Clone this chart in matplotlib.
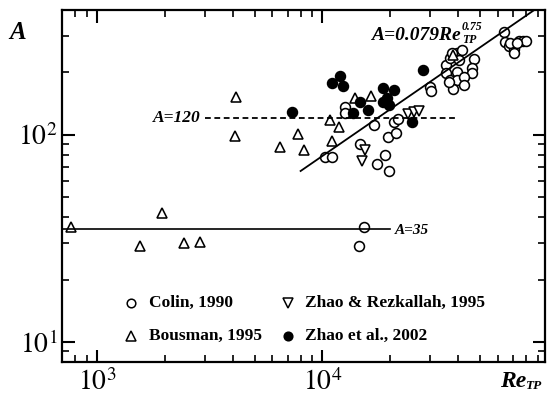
import numpy as np
import matplotlib
matplotlib.use('Agg')
import matplotlib.pyplot as plt
from matplotlib.ticker import LogLocator, NullFormatter, FixedLocator, FixedFormatter

plt.rcParams['mathtext.fontset'] = 'stix'
plt.rcParams['font.family'] = ['Liberation Serif', 'DejaVu Serif']

# ---------------- data ----------------
colin_re = [10250, 11070, 12640, 12640, 16980, 14690, 17460, 19010, 19770, 19500,
            21130, 20820, 21600, 29960, 30270,
            35480, 36940, 39540, 41600, 37580, 40180, 46880, 46130, 46130, 39540,
            35480, 36940, 39540, 42270, 42620, 37940, 36310,
            63970, 64790, 66990, 70470, 70990, 74150, 77800, 80300, 68180, 72950,
            15350, 14480]
colin_a = [78.5, 78.5, 136, 127.3, 112, 90.5, 72.3, 79.8, 66.8, 97.5,
           101.9, 115.2, 118.7, 169.4, 163,
           217, 233.9, 247.2, 256.4, 247.2, 229.6, 231.2, 209.4, 197.9, 201.4,
           197.9, 183.7, 183.7, 190.5, 173.8, 165.6, 180.3,
           312.6, 281.2, 267.3, 259.2, 247.2, 282.5, 285, 282.5, 276, 276,
           35.7, 29.0]

bousman_re = [770, 1941, 1546, 2421, 2851, 4150, 4112, 6500, 7762, 8260,
              10770, 11800, 11040, 13870, 16440, 38100]
bousman_a = [36.0, 42.0, 29.0, 30.1, 30.5, 152.7, 98.6, 87.5, 100.5, 84.0,
             117.8, 109.3, 93.6, 150, 154.6, 242.6]

zr_re = [15000, 15490, 24040, 25570, 26920]
zr_a = [74.7, 84.4, 126, 128.8, 130.2]

zhao_re = [7330, 11040, 11990, 12300, 14720, 13620, 15960, 18580, 20700, 18530,
           19410, 19770, 24970, 28050]
zhao_a = [129.4, 177.7, 192, 172.8, 143.5, 127.3, 131.6, 167.5, 164.4, 143.5,
          150, 139.2, 115, 204.6]

fit_coef = 0.079
fit_exp = 0.75
fit_re = [8000, 100000]
line120_re = [3000, 40000]
line120_a = 120
line35_re = [700, 20000]
line35_a = 35

xlim = (700, 97000)
ylim = (8, 400)

legend_labels = ['Colin, 1990', 'Bousman, 1995', 'Zhao & Rezkallah, 1995', 'Zhao et al., 2002']

# ---------------- figure ----------------
fig = plt.figure(figsize=(5.5, 4.01), dpi=100)
ax = fig.add_axes([62/550, 1-362/401, 483/550, 352/401])
ax.set_xscale('log')
ax.set_yscale('log')
ax.set_xlim(*xlim)
ax.set_ylim(*ylim)

ms_c = 7.1
ms_t = 7.8
mew = 1.15
ax.plot(colin_re, colin_a, 'o', ms=ms_c, mfc='white', mec='black', mew=mew, zorder=3)
ax.plot(bousman_re, bousman_a, '^', ms=ms_t, mfc='white', mec='black', mew=mew, zorder=3)
ax.plot(zr_re, zr_a, 'v', ms=ms_t, mfc='white', mec='black', mew=mew, zorder=3)
ax.plot(zhao_re, zhao_a, 'o', ms=ms_c, mfc='black', mec='black', mew=mew, zorder=4)

fx = np.array(fit_re, dtype=float)
fxx = np.logspace(np.log10(fx[0]), np.log10(fx[1]), 50)
ax.plot(fxx, fit_coef * fxx**fit_exp, '-', color='black', lw=1.3, zorder=5)
ax.plot(line120_re, [line120_a]*2, color='black', lw=1.3, dashes=(3.2, 2.0), zorder=5)
ax.plot(line35_re, [line35_a]*2, color='black', lw=1.2, zorder=5)

# annotations
bi = dict(family='Liberation Serif', weight='bold', style='italic', color='black')
ax.text(40900, 286, 'A=0.079Re', ha='right', va='baseline', fontsize=14, **bi)
ax.text(41600, 320, '0.75', ha='left', va='baseline', fontsize=8.5, **bi)
ax.text(41600, 276, 'TP', ha='left', va='baseline', fontsize=8.5, **bi)
ax.text(2870, 120, 'A=120', ha='right', va='center', fontsize=12.5, **bi)
ax.text(20840, 34.5, 'A=35', ha='left', va='center', fontsize=11, **bi)

# axis labels
ax.text(-0.091, 0.935, 'A', transform=ax.transAxes, ha='center', va='center', fontsize=18, **bi)
ax.text(0.907, -0.070, 'Re', transform=ax.transAxes, ha='left', va='baseline', fontsize=17, clip_on=False, **bi)
ax.text(0.958, -0.078, 'TP', transform=ax.transAxes, ha='left', va='baseline', fontsize=9.5, clip_on=False, **bi)

# legend (manual)
tr = ax.transAxes
lx1, tx1, lx2, tx2 = 0.1429, 0.180, 0.468, 0.503
ly1, ly2 = 0.1685, 0.0747
lkw = dict(transform=tr, ms=6.2, mec='black', mew=1.1, clip_on=False)
ax.plot([lx1], [ly1], 'o', mfc='white', **lkw)
ax.plot([lx1], [ly2], '^', mfc='white', **dict(lkw, ms=7))
ax.plot([lx2], [ly1], 'v', mfc='white', **dict(lkw, ms=7))
ax.plot([lx2], [ly2], 'o', mfc='black', **lkw)
tkw = dict(transform=tr, ha='left', va='center', fontsize=12.5, weight='bold', family='Liberation Serif')
ax.text(tx1, ly1, legend_labels[0], **tkw)
ax.text(tx1, ly2, legend_labels[1], **tkw)
ax.text(tx2, ly1, legend_labels[2], **tkw)
ax.text(tx2, ly2, legend_labels[3], **tkw)

# ticks
for s in ax.spines.values():
    s.set_linewidth(1.6)
ax.xaxis.set_major_locator(FixedLocator([1e3, 1e4]))
ax.xaxis.set_major_formatter(FixedFormatter([r'$10^{3}$', r'$10^{4}$']))
ax.yaxis.set_major_locator(FixedLocator([1e1, 1e2]))
ax.yaxis.set_major_formatter(FixedFormatter([r'$10^{1}$', r'$10^{2}$']))
ax.xaxis.set_minor_locator(LogLocator(base=10, subs=np.arange(2, 10)))
ax.yaxis.set_minor_locator(LogLocator(base=10, subs=np.arange(2, 10)))
ax.xaxis.set_minor_formatter(NullFormatter())
ax.yaxis.set_minor_formatter(NullFormatter())
ax.tick_params(which='both', direction='in', top=True, right=True, color='black')
ax.tick_params(which='major', length=9, width=1.5, labelsize=20)
ax.tick_params(which='minor', length=5, width=1.2)
ax.tick_params(axis='x', which='major', pad=5)
ax.tick_params(axis='y', which='major', pad=3)

fig.savefig('out.png', dpi=100)
